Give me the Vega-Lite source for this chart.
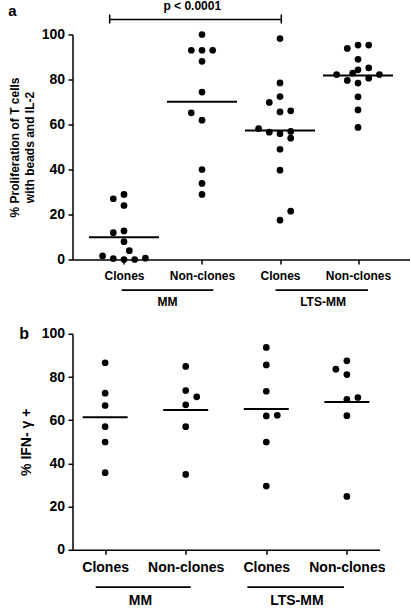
{
  "$schema": "https://vega.github.io/schema/vega-lite/v6.json",
  "padding": {"left": 7.5, "top": -0.5, "right": 0, "bottom": 0},
  "background": "white",
  "config": {
    "font": "Liberation Sans",
    "view": {"stroke": null},
    "axis": {"grid": false, "domainColor": "black", "tickColor": "black", "labelColor": "black", "titleColor": "black", "labelFontWeight": "bold", "titleFontWeight": "bold", "labelFont": "Liberation Sans", "titleFont": "Liberation Sans", "domainWidth": 1.5, "tickWidth": 1.5, "tickSize": 4.5},
    "title": {"anchor": "start", "frame": "bounds", "fontWeight": "bold", "color": "black", "font": "Liberation Sans"}
  },
  "datasets": {
    "prolif": [
      {"group": "MM", "type": "Clones", "value": 27.0, "dodge": -1},
      {"group": "MM", "type": "Clones", "value": 28.9, "dodge": 0},
      {"group": "MM", "type": "Clones", "value": 24.0, "dodge": 0},
      {"group": "MM", "type": "Clones", "value": 11.9, "dodge": -1},
      {"group": "MM", "type": "Clones", "value": 12.7, "dodge": 0},
      {"group": "MM", "type": "Clones", "value": 7.9, "dodge": 0},
      {"group": "MM", "type": "Clones", "value": 3.9, "dodge": 0.5},
      {"group": "MM", "type": "Clones", "value": 1.6, "dodge": -2},
      {"group": "MM", "type": "Clones", "value": 0.4, "dodge": -1},
      {"group": "MM", "type": "Clones", "value": 0.0, "dodge": 0},
      {"group": "MM", "type": "Clones", "value": 0.0, "dodge": 1},
      {"group": "MM", "type": "Clones", "value": 0.6, "dodge": 2},
      {"group": "MM", "type": "Non-clones", "value": 100, "dodge": 0},
      {"group": "MM", "type": "Non-clones", "value": 93, "dodge": -1},
      {"group": "MM", "type": "Non-clones", "value": 93, "dodge": 0},
      {"group": "MM", "type": "Non-clones", "value": 93, "dodge": 1},
      {"group": "MM", "type": "Non-clones", "value": 88.1, "dodge": 0},
      {"group": "MM", "type": "Non-clones", "value": 74.4, "dodge": 0},
      {"group": "MM", "type": "Non-clones", "value": 65.2, "dodge": -1},
      {"group": "MM", "type": "Non-clones", "value": 61.9, "dodge": 0},
      {"group": "MM", "type": "Non-clones", "value": 40.0, "dodge": 0},
      {"group": "MM", "type": "Non-clones", "value": 33.8, "dodge": 0},
      {"group": "MM", "type": "Non-clones", "value": 28.9, "dodge": 0},
      {"group": "LTS-MM", "type": "Clones", "value": 98.2, "dodge": 0},
      {"group": "LTS-MM", "type": "Clones", "value": 78.5, "dodge": 0},
      {"group": "LTS-MM", "type": "Clones", "value": 72.4, "dodge": 0},
      {"group": "LTS-MM", "type": "Clones", "value": 69.8, "dodge": -1},
      {"group": "LTS-MM", "type": "Clones", "value": 65.6, "dodge": 0},
      {"group": "LTS-MM", "type": "Clones", "value": 66.1, "dodge": 1},
      {"group": "LTS-MM", "type": "Clones", "value": 58.2, "dodge": -2},
      {"group": "LTS-MM", "type": "Clones", "value": 56.6, "dodge": -1},
      {"group": "LTS-MM", "type": "Clones", "value": 55.9, "dodge": 0},
      {"group": "LTS-MM", "type": "Clones", "value": 56.9, "dodge": 1},
      {"group": "LTS-MM", "type": "Clones", "value": 53.9, "dodge": 1},
      {"group": "LTS-MM", "type": "Clones", "value": 49.0, "dodge": 0},
      {"group": "LTS-MM", "type": "Clones", "value": 39.7, "dodge": 0},
      {"group": "LTS-MM", "type": "Clones", "value": 21.5, "dodge": 1},
      {"group": "LTS-MM", "type": "Clones", "value": 17.5, "dodge": 0},
      {"group": "LTS-MM", "type": "Non-clones", "value": 93.8, "dodge": -1},
      {"group": "LTS-MM", "type": "Non-clones", "value": 95.3, "dodge": 0},
      {"group": "LTS-MM", "type": "Non-clones", "value": 95.3, "dodge": 1},
      {"group": "LTS-MM", "type": "Non-clones", "value": 89.0, "dodge": 0},
      {"group": "LTS-MM", "type": "Non-clones", "value": 84.3, "dodge": 0},
      {"group": "LTS-MM", "type": "Non-clones", "value": 85.2, "dodge": 1},
      {"group": "LTS-MM", "type": "Non-clones", "value": 82.2, "dodge": -2},
      {"group": "LTS-MM", "type": "Non-clones", "value": 79.6, "dodge": -1},
      {"group": "LTS-MM", "type": "Non-clones", "value": 82.8, "dodge": -0.5},
      {"group": "LTS-MM", "type": "Non-clones", "value": 80.6, "dodge": 1},
      {"group": "LTS-MM", "type": "Non-clones", "value": 82.2, "dodge": 2},
      {"group": "LTS-MM", "type": "Non-clones", "value": 78.4, "dodge": 0},
      {"group": "LTS-MM", "type": "Non-clones", "value": 72.3, "dodge": 0},
      {"group": "LTS-MM", "type": "Non-clones", "value": 66.5, "dodge": 0},
      {"group": "LTS-MM", "type": "Non-clones", "value": 58.7, "dodge": 0}
    ],
    "ifn": [
      {"group": "MM", "type": "Clones", "value": 86.6, "dodge": 0},
      {"group": "MM", "type": "Clones", "value": 72.5, "dodge": 0},
      {"group": "MM", "type": "Clones", "value": 66.8, "dodge": 0},
      {"group": "MM", "type": "Clones", "value": 57.0, "dodge": 0},
      {"group": "MM", "type": "Clones", "value": 49.9, "dodge": 0},
      {"group": "MM", "type": "Clones", "value": 35.7, "dodge": 0},
      {"group": "MM", "type": "Non-clones", "value": 84.9, "dodge": 0},
      {"group": "MM", "type": "Non-clones", "value": 73.7, "dodge": 0},
      {"group": "MM", "type": "Non-clones", "value": 70.8, "dodge": 1},
      {"group": "MM", "type": "Non-clones", "value": 67.1, "dodge": 0},
      {"group": "MM", "type": "Non-clones", "value": 57.0, "dodge": 0},
      {"group": "MM", "type": "Non-clones", "value": 34.9, "dodge": 0},
      {"group": "LTS-MM", "type": "Clones", "value": 93.7, "dodge": 0},
      {"group": "LTS-MM", "type": "Clones", "value": 85.6, "dodge": 0},
      {"group": "LTS-MM", "type": "Clones", "value": 73.4, "dodge": 0},
      {"group": "LTS-MM", "type": "Clones", "value": 62.0, "dodge": 0},
      {"group": "LTS-MM", "type": "Clones", "value": 62.3, "dodge": 1},
      {"group": "LTS-MM", "type": "Clones", "value": 49.9, "dodge": 0},
      {"group": "LTS-MM", "type": "Clones", "value": 29.5, "dodge": 0},
      {"group": "LTS-MM", "type": "Non-clones", "value": 87.5, "dodge": 0},
      {"group": "LTS-MM", "type": "Non-clones", "value": 83.6, "dodge": -1},
      {"group": "LTS-MM", "type": "Non-clones", "value": 81.1, "dodge": 0},
      {"group": "LTS-MM", "type": "Non-clones", "value": 69.6, "dodge": 0},
      {"group": "LTS-MM", "type": "Non-clones", "value": 70.5, "dodge": 1},
      {"group": "LTS-MM", "type": "Non-clones", "value": 62.1, "dodge": 0},
      {"group": "LTS-MM", "type": "Non-clones", "value": 24.7, "dodge": 0}
    ]
  },
  "spacing": 17.3,
  "resolve": {"scale": {"x": "independent", "y": "independent", "xOffset": "independent"}},
  "vconcat": [
    {
      "width": 337,
      "height": 225,
      "title": {"text": "a", "fontSize": 15, "offset": -19},
      "layer": [
        {
          "data": {"name": "prolif"},
          "transform": [{"calculate": "datum.group + '|' + datum.type", "as": "cat"}],
          "mark": {"type": "circle", "size": 45, "opacity": 1, "color": "black"},
          "encoding": {
            "x": {"field": "cat", "type": "nominal",
              "scale": {"type": "point", "domain": ["MM|Clones", "MM|Non-clones", "LTS-MM|Clones", "LTS-MM|Non-clones"], "padding": 0.66},
              "axis": {"title": null, "labelExpr": "split(datum.value, '|')[1]", "labelAngle": 0, "labelFontSize": 12, "labelPadding": 6}},
            "y": {"field": "value", "type": "quantitative",
              "scale": {"domain": [0, 100], "nice": false},
              "axis": {"values": [0, 20, 40, 60, 80, 100], "labelFontSize": 14, "labelPadding": 3.5, "title": ["% Proliferation of  T cells", "with beads and IL-2"], "titleFontSize": 12, "titleLineHeight": 15, "titlePadding": 5}},
            "xOffset": {"field": "dodge", "type": "quantitative", "scale": {"domain": [-2, 2], "range": [-21.4, 21.4]}}
          }
        },
        {
          "data": {"name": "prolif"},
          "transform": [
            {"calculate": "datum.group + '|' + datum.type", "as": "cat"},
            {"aggregate": [{"op": "mean", "field": "value", "as": "mean"}], "groupby": ["cat"]}
          ],
          "mark": {"type": "tick", "color": "black", "thickness": 2, "size": 70, "opacity": 1},
          "encoding": {
            "x": {"field": "cat", "type": "nominal"},
            "y": {"field": "mean", "type": "quantitative"}
          }
        },
        {
          "data": {"values": [{}]},
          "mark": {"type": "rule", "color": "black", "strokeWidth": 1.7, "xOffset": -2.3, "x2Offset": 11.3, "yOffset": 30.7},
          "encoding": {"x": {"datum": "MM|Clones"}, "x2": {"datum": "MM|Non-clones"}, "y": {"datum": 0}}
        },
        {
          "data": {"values": [{}]},
          "mark": {"type": "rule", "color": "black", "strokeWidth": 1.7, "xOffset": -4.4, "x2Offset": 10, "yOffset": 30.7},
          "encoding": {"x": {"datum": "LTS-MM|Clones"}, "x2": {"datum": "LTS-MM|Non-clones"}, "y": {"datum": 0}}
        },
        {
          "data": {"values": [{}]},
          "mark": {"type": "text", "text": "MM", "fontSize": 12, "fontWeight": "bold", "color": "black", "align": "center", "baseline": "middle", "xOffset": 43.4, "yOffset": 42.7},
          "encoding": {"x": {"datum": "MM|Clones"}, "y": {"datum": 0}}
        },
        {
          "data": {"values": [{}]},
          "mark": {"type": "text", "text": "LTS-MM", "fontSize": 12, "fontWeight": "bold", "color": "black", "align": "center", "baseline": "middle", "xOffset": 43, "yOffset": 42.7},
          "encoding": {"x": {"datum": "LTS-MM|Clones"}, "y": {"datum": 0}}
        },
        {
          "data": {"values": [{}]},
          "mark": {"type": "rule", "color": "black", "strokeWidth": 1.5, "xOffset": -14.3, "x2Offset": 1.3, "yOffset": -15},
          "encoding": {"x": {"datum": "MM|Clones"}, "x2": {"datum": "LTS-MM|Clones"}, "y": {"datum": 100}}
        },
        {
          "data": {"values": [{}]},
          "mark": {"type": "rule", "color": "black", "strokeWidth": 1.5, "xOffset": -14.3, "yOffset": -20, "y2Offset": -11},
          "encoding": {"x": {"datum": "MM|Clones"}, "y": {"datum": 100}, "y2": {"datum": 100}}
        },
        {
          "data": {"values": [{}]},
          "mark": {"type": "rule", "color": "black", "strokeWidth": 1.5, "xOffset": 1.3, "yOffset": -20, "y2Offset": -11},
          "encoding": {"x": {"datum": "LTS-MM|Clones"}, "y": {"datum": 100}, "y2": {"datum": 100}}
        },
        {
          "data": {"values": [{}]},
          "mark": {"type": "text", "text": "p < 0.0001", "fontSize": 12, "fontWeight": "bold", "color": "black", "align": "center", "baseline": "middle", "xOffset": -9.7, "yOffset": -28.3},
          "encoding": {"x": {"datum": "MM|Non-clones"}, "y": {"datum": 100}}
        }
      ]
    },
    {
      "width": 307,
      "height": 216,
      "title": {"text": "b", "fontSize": 16, "offset": -15},
      "layer": [
        {
          "data": {"name": "ifn"},
          "transform": [{"calculate": "datum.group + '|' + datum.type", "as": "cat"}],
          "mark": {"type": "circle", "size": 45, "opacity": 1, "color": "black"},
          "encoding": {
            "x": {"field": "cat", "type": "nominal",
              "scale": {"type": "point", "domain": ["MM|Clones", "MM|Non-clones", "LTS-MM|Clones", "LTS-MM|Non-clones"], "padding": 0.405},
              "axis": {"title": null, "labelExpr": "split(datum.value, '|')[1]", "labelAngle": 0, "labelFontSize": 14, "labelPadding": 6}},
            "y": {"field": "value", "type": "quantitative",
              "scale": {"domain": [0, 100], "nice": false},
              "axis": {"values": [0, 20, 40, 60, 80, 100], "labelFontSize": 14, "labelPadding": 3.5, "title": "% IFN- γ +", "titleFontSize": 14, "titlePadding": 8}},
            "xOffset": {"field": "dodge", "type": "quantitative", "scale": {"domain": [-2, 2], "range": [-22, 22]}}
          }
        },
        {
          "data": {"name": "ifn"},
          "transform": [
            {"calculate": "datum.group + '|' + datum.type", "as": "cat"},
            {"aggregate": [{"op": "mean", "field": "value", "as": "mean"}], "groupby": ["cat"]}
          ],
          "mark": {"type": "tick", "color": "black", "thickness": 2, "size": 45, "opacity": 1},
          "encoding": {
            "x": {"field": "cat", "type": "nominal"},
            "y": {"field": "mean", "type": "quantitative"}
          }
        },
        {
          "data": {"values": [{}]},
          "mark": {"type": "rule", "color": "black", "strokeWidth": 1.7, "xOffset": -9.4, "x2Offset": 5, "yOffset": 37.4},
          "encoding": {"x": {"datum": "MM|Clones"}, "x2": {"datum": "MM|Non-clones"}, "y": {"datum": 0}}
        },
        {
          "data": {"values": [{}]},
          "mark": {"type": "rule", "color": "black", "strokeWidth": 1.7, "xOffset": -18.9, "x2Offset": -2.9, "yOffset": 37.4},
          "encoding": {"x": {"datum": "LTS-MM|Clones"}, "x2": {"datum": "LTS-MM|Non-clones"}, "y": {"datum": 0}}
        },
        {
          "data": {"values": [{}]},
          "mark": {"type": "text", "text": "MM", "fontSize": 14, "fontWeight": "bold", "color": "black", "align": "center", "baseline": "middle", "xOffset": 35.3, "yOffset": 51.5},
          "encoding": {"x": {"datum": "MM|Clones"}, "y": {"datum": 0}}
        },
        {
          "data": {"values": [{}]},
          "mark": {"type": "text", "text": "LTS-MM", "fontSize": 14, "fontWeight": "bold", "color": "black", "align": "center", "baseline": "middle", "xOffset": 30.6, "yOffset": 51.5},
          "encoding": {"x": {"datum": "LTS-MM|Clones"}, "y": {"datum": 0}}
        }
      ]
    }
  ]
}
